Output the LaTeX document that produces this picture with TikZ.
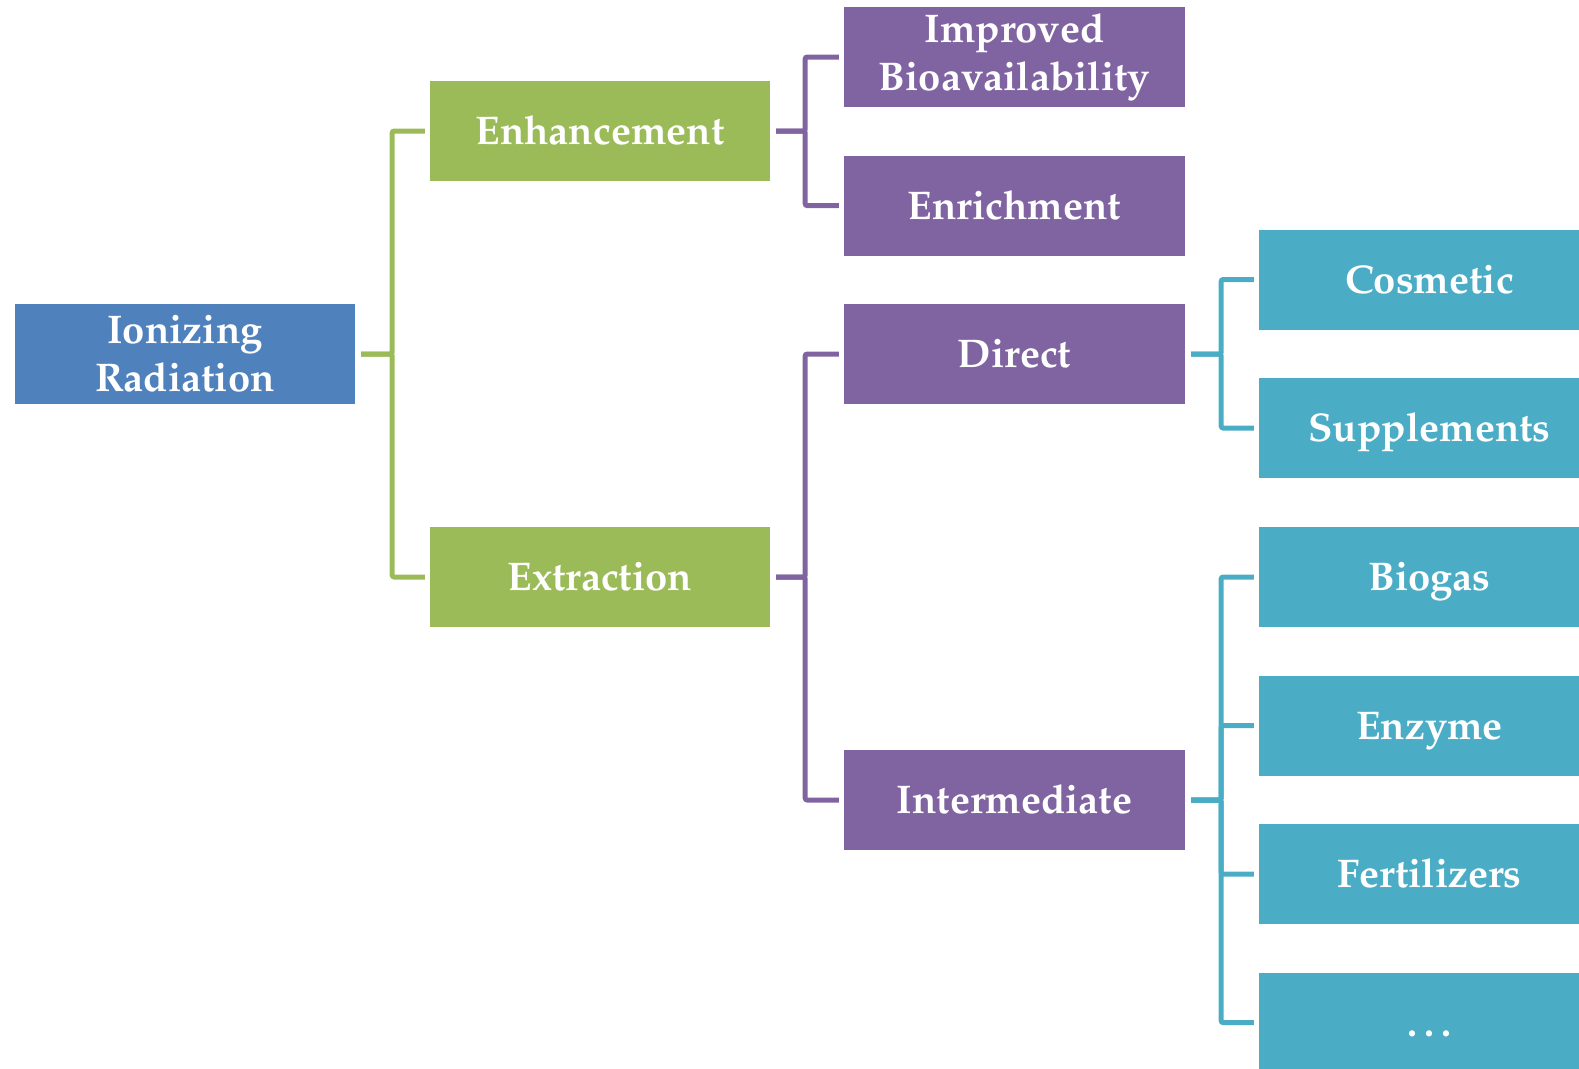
\documentclass[tikz,border=0pt]{standalone}
\usepackage[T1]{fontenc}
\usepackage{mathpazo}
\definecolor{cblue}{HTML}{4F81BD}
\definecolor{cgreen}{HTML}{9BBB59}
\definecolor{cpurple}{HTML}{8064A2}
\definecolor{ccyan}{HTML}{4BACC6}
\tikzset{
  box/.style={rectangle, draw=none, text=white, minimum width=340pt, minimum height=100pt,
    inner sep=0pt, align=center, font=\fontsize{40}{48}\selectfont\bfseries},
  oneline/.style={text height=27pt, text depth=0pt},
  bluebox/.style={box, fill=cblue},
  greenbox/.style={box, fill=cgreen},
  purplebox/.style={box, fill=cpurple, minimum width=341pt},
  cyanbox/.style={box, fill=ccyan, minimum width=341pt},
  conn/.style={draw=#1, line width=5pt, rounded corners=2pt}
}
\begin{document}
\begin{tikzpicture}[x=1pt,y=-1pt]
\useasboundingbox (0,0) rectangle (1579,1068);
\node[bluebox] (ion) at (185,354) {Ionizing\\Radiation};
\node[greenbox, oneline] (enh) at (600,131) {Enhancement};
\node[greenbox, oneline] (ext) at (600,577) {Extraction};
\node[purplebox] (imp) at (1014.5,57) {Improved\\Bioavailability};
\node[purplebox, oneline] (enr) at (1014.5,205.6) {Enrichment};
\node[purplebox, oneline] (dir) at (1014.5,354) {Direct};
\node[purplebox, oneline] (int) at (1014.5,800) {Intermediate};
\node[cyanbox, oneline] (cos) at (1429.5,279.5) {Cosmetic};
\node[cyanbox, oneline] (sup) at (1429.5,428) {Supplements};
\node[cyanbox, oneline] (bio) at (1429.5,577) {Biogas};
\node[cyanbox, oneline] (enz) at (1429.5,725.6) {Enzyme};
\node[cyanbox, oneline] (fer) at (1429.5,874) {Fertilizers};
\node[cyanbox, oneline] (dots) at (1429.5,1022.6) {.\kern7pt.\kern7pt.};
% green connectors
\draw[conn=cgreen] ([xshift=6]ion.east) -- ++(31,0) |- ([xshift=-5]enh.west);
\draw[conn=cgreen] ([xshift=6]ion.east) -- ++(31,0) |- ([xshift=-5]ext.west);
% purple connectors
\draw[conn=cpurple] ([xshift=6]enh.east) -- ++(29,0) |- ([xshift=-5]imp.west);
\draw[conn=cpurple] ([xshift=6]enh.east) -- ++(29,0) |- ([xshift=-5]enr.west);
\draw[conn=cpurple] ([xshift=6]ext.east) -- ++(29,0) |- ([xshift=-5]dir.west);
\draw[conn=cpurple] ([xshift=6]ext.east) -- ++(29,0) |- ([xshift=-5]int.west);
% cyan connectors
\draw[conn=ccyan] ([xshift=6]dir.east) -- ++(30,0) |- ([xshift=-5]cos.west);
\draw[conn=ccyan] ([xshift=6]dir.east) -- ++(30,0) |- ([xshift=-5]sup.west);
\draw[conn=ccyan] ([xshift=6]int.east) -- ++(30,0) |- ([xshift=-5]bio.west);
\draw[conn=ccyan] ([xshift=6]int.east) -- ++(30,0) |- ([xshift=-5]enz.west);
\draw[conn=ccyan] ([xshift=6]int.east) -- ++(30,0) |- ([xshift=-5]fer.west);
\draw[conn=ccyan] ([xshift=6]int.east) -- ++(30,0) |- ([xshift=-5]dots.west);
\end{tikzpicture}
\end{document}
